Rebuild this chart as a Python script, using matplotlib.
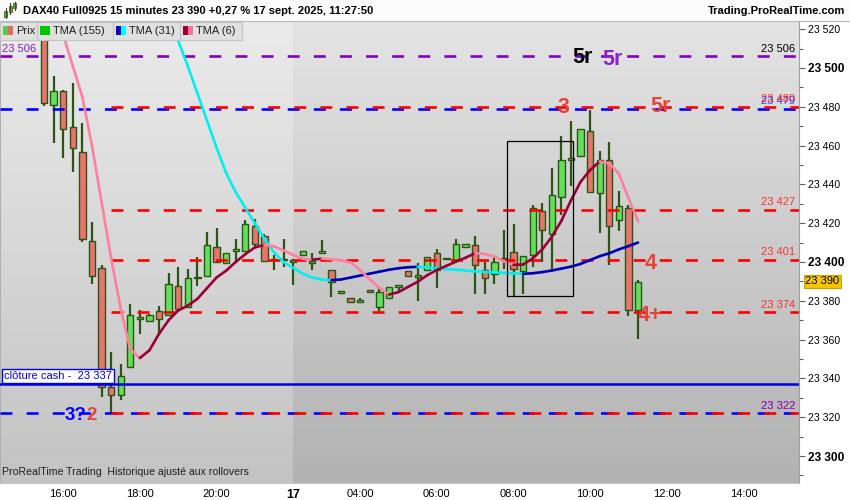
import numpy as np
import matplotlib
matplotlib.use("Agg")
import matplotlib.pyplot as plt
import matplotlib.colors as mcolors
from matplotlib.collections import LineCollection
from matplotlib.patches import Rectangle

plt.rcParams['font.family'] = ['Liberation Sans', 'DejaVu Sans']
plt.rcParams['lines.scale_dashes'] = False
NARROW = ['Liberation Sans Narrow', 'Liberation Sans', 'DejaVu Sans']

# 15 min bars, first one = 16 sept 15:30
opens = [23545, 23481, 23488, 23469.5, 23456.5, 23411, 23397, 23335.5, 23331.5, 23346,
         23370.5, 23369.5, 23375, 23372.5, 23387.5, 23377, 23391.5, 23393, 23407.5, 23399.5,
         23405.5, 23405.5, 23418.5, 23413.5, 23401, 23401.3, 23401, 23403.5, 23399.5, 23404.5,
         23396, 23384, 23381.5, 23379.2, 23384.8, 23377, 23381.3, 23387.3, 23395.2, 23392.4,
         23396, 23404.5, 23401.3, 23401, 23407.5, 23408.5, 23396, 23393.8, 23402.2, 23405.3,
         23395.2, 23403.4, 23426.5, 23414.3, 23433.3, 23453.5, 23454.5, 23467.4, 23435.4, 23452.6,
         23421.5, 23427.7, 23375.3]
highs = [23550, 23496, 23488.5, 23492, 23471.5, 23420.5, 23398.5, 23353.5, 23347.5, 23378.5,
         23375.5, 23373, 23377.5, 23394.5, 23397.5, 23396.5, 23402.5, 23415.5, 23417.5, 23404.5,
         23412, 23421.5, 23422, 23414.5, 23403.5, 23412, 23401.5, 23405.5, 23404.5, 23411.5,
         23396, 23385, 23381.5, 23381.3, 23385.2, 23387, 23387.3, 23388.3, 23395.2, 23399.3,
         23402.5, 23406.5, 23402, 23412, 23409.5, 23413.5, 23400, 23402.5, 23416.5, 23419.5,
         23403.3, 23429.5, 23430.3, 23448.3, 23465, 23472.7, 23468.5, 23478.5, 23457, 23462,
         23436.6, 23429.4, 23390.7]
lows = [23480.5, 23461.5, 23453.5, 23446.5, 23410.5, 23388.5, 23330.5, 23321.5, 23329, 23346,
        23363, 23369, 23363, 23372.5, 23376, 23377, 23387.5, 23393, 23400, 23399.5,
        23400, 23405.5, 23408, 23400, 23396, 23397.5, 23388, 23403.5, 23396, 23404.5,
        23382, 23384, 23379, 23379.2, 23384.5, 23374.5, 23381.3, 23385, 23393, 23380,
        23396, 23386.5, 23401, 23401, 23407.5, 23383.5, 23383.5, 23388.5, 23396.5, 23382.5,
        23383.5, 23397.5, 23400.2, 23395.5, 23424.2, 23439.2, 23454.5, 23436, 23415, 23398.3,
        23416, 23372.2, 23360.2]
closes = [23482, 23488, 23468.5, 23458.5, 23412, 23393, 23335.5, 23331.5, 23341, 23372.5,
          23371.5, 23372.5, 23370.5, 23388.5, 23376, 23391.5, 23392.3, 23408.5, 23400, 23404.5,
          23406.5, 23419.5, 23409.5, 23400.5, 23401.3, 23401, 23400, 23405.5, 23400.5, 23405.5,
          23389.5, 23384.2, 23379.2, 23380.3, 23384.6, 23384.5, 23387.3, 23388.3, 23393, 23392.6,
          23402.5, 23396, 23401.7, 23409.5, 23409.5, 23398.5, 23391.5, 23400.2, 23401.2, 23396.2,
          23403.3, 23427.7, 23416.3, 23434.4, 23452.4, 23452.6, 23468.4, 23436.3, 23452.6, 23418.4,
          23428.9, 23375.3, 23389.5]

# TMA (6), starts at bar 1
tma6_start = 1
tma6 = [23535, 23517, 23501, 23485, 23460, 23431, 23402, 23376, 23355, 23350.5,
        23354.5, 23363, 23370, 23375, 23377.5, 23381, 23386.5, 23392, 23395.5, 23400,
        23404, 23407.5, 23408.8, 23408, 23406, 23403.6, 23401.6, 23401.2, 23401.7, 23401.4,
        23400.8, 23399.8, 23395.8, 23391, 23386.7, 23383.2, 23384.5, 23387.2, 23389.8, 23393.2,
        23395.9, 23398, 23400.2, 23402.2, 23404.6, 23404.1, 23402.8, 23400.3, 23398.5, 23398.7,
        23401.8, 23406.5, 23413, 23421.2, 23431.8, 23441.3, 23447.4, 23451.8, 23450.8, 23445.5,
        23433, 23421]
# TMA (31), starts at bar 13
tma31_start = 13
tma31 = [23530, 23514, 23501, 23487, 23473, 23459, 23446, 23436, 23428, 23420,
         23412, 23405, 23400, 23397, 23394, 23392, 23391, 23390.6, 23391, 23392,
         23393, 23394, 23395, 23396, 23396.8, 23397.3, 23397.5, 23397.2, 23396.8, 23396.3,
         23396, 23395.6, 23395.2, 23394.9, 23394.6, 23394.3, 23394.1, 23393.9, 23394.2, 23394.8,
         23395.6, 23396.6, 23397.6, 23399, 23401, 23403, 23404.5, 23406.5, 23408.2, 23410]

time_ticks = [2, 10, 18, 26, 33, 41, 49, 57, 65, 73]
time_labels = ['16:00', '18:00', '20:00', '17', '04:00', '06:00', '08:00', '10:00', '12:00', '14:00']
session_break = 25.95

level_5r = 23506
level_blue_hi = 23479
red_levels = [23480, 23427, 23401, 23374, 23322]
red_labels = ['23 480', '23 427', '23 401', '23 374', '23 322']
red_start = 7
level_blue_lo = 23322
cash_close = 23337
last_price = 23390

box_x = (48.3, 55.25)
box_y = (23382.5, 23462.5)

# (text, bar, price, colour)
marks = [('5r', 56.2, 23502.6, 'black'), ('5r', 59.3, 23501.5, '#8a22c8'),
         ('3', 54.2, 23476.8, '#e8413c'), ('5r', 64.3, 23477.2, '#e8413c'),
         ('4', 63.3, 23396.2, '#e8413c'), ('4+', 63.2, 23369.7, '#e8413c')]

xlim = (-4.6, 78.8)
ylim = (23286.1, 23524.2)

fig = plt.figure(figsize=(8.5, 5), dpi=100)
fig.patch.set_facecolor('white')
ax = fig.add_axes([0, 17 / 500, 799 / 850, 462 / 500])

# background gradients
g = np.linspace(0, 1, 256)[:, None, None]
def vgrad(top, bottom):
    t = np.array(mcolors.to_rgb(top))
    b = np.array(mcolors.to_rgb(bottom))
    return t * (1 - g) + b * g
ax.imshow(vgrad('#ebebeb', '#c3c3c3'), extent=(xlim[0], session_break, ylim[0], ylim[1]),
          aspect='auto', origin='upper', zorder=0)
ax.imshow(vgrad('#e4e4e4', '#b2b2b2'), extent=(session_break, xlim[1], ylim[0], ylim[1]),
          aspect='auto', origin='upper', zorder=0)

# candles
idx = np.arange(len(opens))
o = np.array(opens)
c = np.array(closes)
wick = '#2b5514'
ax.vlines(idx, lows, highs, color=wick, lw=1.6, zorder=2)
body_lo = np.minimum(o, c)
body_h = np.maximum(np.abs(c - o), 0.8)
cols = np.where(c >= o, '#62e05a', '#ea746c')
ax.bar(idx, body_h, bottom=body_lo, width=0.66, color=cols, edgecolor=wick, lw=1.0, zorder=3)

# levels
dash = (8.6, 10.2)
ax.plot(xlim, [level_5r] * 2, color='#8000c8', lw=1.9, dashes=dash, zorder=4)
ax.plot(xlim, [level_blue_hi] * 2, color='#0000ff', lw=1.9, dashes=dash, zorder=4)
ax.plot(xlim, [level_blue_lo] * 2, color='#0000ff', lw=1.9, dashes=dash, zorder=4)
for lv in red_levels:
    ax.plot([red_start, xlim[1]], [lv] * 2, color='#ff0000', lw=1.9, dashes=dash,
            dash_capstyle='butt', zorder=4)
ax.plot(xlim, [cash_close] * 2, color='#0000ee', lw=1.8, zorder=4)

# TMA lines
def tma_line(start, vals, c_up, c_dn):
    x = np.arange(start, start + len(vals))
    y = np.array(vals)
    pts = np.column_stack([x, y])
    segs = np.stack([pts[:-1], pts[1:]], axis=1)
    colors = [c_up if y[k + 1] >= y[k] else c_dn for k in range(len(y) - 1)]
    ax.add_collection(LineCollection(segs, colors=colors, lw=1.9, capstyle='round', zorder=5))
tma_line(tma31_start, tma31, '#0000b4', '#00f0f0')
tma_line(tma6_start, tma6, '#9a0038', '#ff7f9e')

ax.add_patch(Rectangle((box_x[0], box_y[0]), box_x[1] - box_x[0], box_y[1] - box_y[0],
                       fill=False, ec='black', lw=0.9, zorder=6))

# labels on the chart
for txt, xb, yp, col in marks:
    ax.text(xb, yp, txt, color=col, fontsize=15.5, fontweight='bold', ha='center',
            va='baseline', zorder=7)
ax.text(4.39, 23318.6, '3?', color='#0000ff', fontsize=13.5, fontweight='bold', ha='right',
        va='baseline', zorder=7)
ax.text(4.39, 23318.6, '2', color='#e8413c', fontsize=13.5, fontweight='bold', ha='left',
        va='baseline', zorder=7)

tr = ax.get_yaxis_transform()
ax.annotate('23 506', (0.995, level_5r), xycoords=tr, xytext=(0, 3.3), textcoords='offset points',
            ha='right', va='baseline', fontsize=8, color='black', zorder=7)
ax.annotate('23 506', (0.003, level_5r), xycoords=tr, xytext=(0, 3.3), textcoords='offset points',
            ha='left', va='baseline', fontsize=8, color='#8a22c8', zorder=7)
# blue and red labels sit on top of each other, as on the original screen
ax.annotate('23 479', (0.995, level_blue_hi), xycoords=tr, xytext=(0, 3.3), textcoords='offset points',
            ha='right', va='baseline', fontsize=8, color='#2040ff', zorder=7)
ax.annotate('23 322', (0.995, level_blue_lo), xycoords=tr, xytext=(0, 3.3), textcoords='offset points',
            ha='right', va='baseline', fontsize=8, color='#3030ff', zorder=7)
for lv, lab in zip(red_levels, red_labels):
    col = '#c0188c' if lv == level_blue_lo else '#ff2020'
    ax.annotate(lab, (0.995, lv), xycoords=tr, xytext=(0, 3.3), textcoords='offset points',
                ha='right', va='baseline', fontsize=8, color=col, zorder=7, alpha=0.9)
ax.annotate('clôture cash -  23 337', (0.0, cash_close), xycoords=tr, xytext=(3, 2.4),
            textcoords='offset points', ha='left', va='bottom', fontsize=8, color='#0000ee',
            bbox=dict(boxstyle='square,pad=0.18', fc='white', ec='#0000ee', lw=1.0), zorder=8)
ax.annotate('23 390', (1.0, last_price), xycoords=tr, xytext=(4.5, 0), textcoords='offset points',
            ha='left', va='center', fontsize=8, color='black', annotation_clip=False,
            bbox=dict(boxstyle='square,pad=0.12', fc='#f7c600', ec='#d0a000', lw=0.8), zorder=8)
ax.text(0.003, 0.012, 'ProRealTime Trading  Historique ajusté aux rollovers', transform=ax.transAxes,
        family=NARROW, fontsize=7.6, color='#202020', ha='left', va='bottom', zorder=7)

# axes
ax.set_xlim(xlim)
ax.set_ylim(ylim)
ax.yaxis.tick_right()
yt = list(range(23300, 23521, 20))
ax.set_yticks(yt, [f'{v:,}'.replace(',', ' ') for v in yt])
ax.set_yticks(range(23290, 23521, 10), minor=True)
ax.tick_params(axis='y', which='major', length=4.5, width=0.8, color='#606060', pad=2, labelsize=7.6)
ax.tick_params(axis='y', which='minor', length=3, width=0.8, color='#606060')
for v, lab in zip(yt, ax.get_yticklabels()):
    if v % 100 == 0:
        lab.set_fontweight('bold')
        lab.set_fontsize(8.6)
ax.set_xticks(time_ticks, time_labels)
ax.tick_params(axis='x', length=0, pad=4, labelsize=8)
for lab in ax.get_xticklabels():
    lab.set_family(NARROW)
    if lab.get_text() == '17':
        lab.set_fontweight('bold')
        lab.set_fontsize(9)
ax.spines['top'].set_visible(False)
ax.spines['bottom'].set_color('#c8c8c8')
ax.spines['left'].set_color('#b0b0b0')
ax.spines['right'].set_color('#a0a0a0')

# header and legend strip (pixel coordinates)
ov = fig.add_axes([0, 0, 1, 1], zorder=10)
ov.set_xlim(0, 850)
ov.set_ylim(500, 0)
ov.axis('off')
ov.patch.set_alpha(0)
ov.add_patch(Rectangle((0, 0), 850, 21, fc='#fbfbfb', ec='none'))
ov.plot([0, 850], [21, 21], color='#b8b8b8', lw=0.8)
for xx, y0, y1, b0, b1, col in [(6, 8, 18, 11, 17, '#4cc040'), (10.5, 3, 14, 6, 12, '#e06a60'),
                                (15, 2, 10, 3, 8, '#4cc040')]:
    ov.plot([xx, xx], [y0, y1], color='#2b5514', lw=0.8)
    ov.add_patch(Rectangle((xx - 1.5, b0), 3, b1 - b0, fc=col, ec='#2b5514', lw=0.5))
ov.text(23, 11.5, 'DAX40 Full0925 15 minutes 23 390 +0,27 % 17 sept. 2025, 11:27:50',
        fontsize=8, fontweight='bold', ha='left', va='center')
ov.text(845, 11.5, 'Trading.ProRealTime.com', fontsize=8, fontweight='bold', ha='right', va='center')

legend_items = [(0, 37, 'Prix', ('#5cc850', '#e06a64')), (37, 113, 'TMA (155)', ('#00c800', '#00c800')),
                (113, 180, 'TMA (31)', ('#0000c8', '#00ffff')), (180, 242, 'TMA (6)', ('#990033', '#ff6f96'))]
for x0, x1, lab, (c1, c2) in legend_items:
    ov.add_patch(Rectangle((x0, 22), x1 - x0, 18, fc='#e0e0e0', ec='#c4c4c4', lw=0.8))
    ov.add_patch(Rectangle((x0 + 3, 26), 5, 9, fc=c1, ec='none'))
    ov.add_patch(Rectangle((x0 + 8, 26), 5, 9, fc=c2, ec='none'))
    ov.text(x0 + 16, 31, lab, fontsize=8, color='#202020', ha='left', va='center')

fig.savefig('out.png', dpi=100)
